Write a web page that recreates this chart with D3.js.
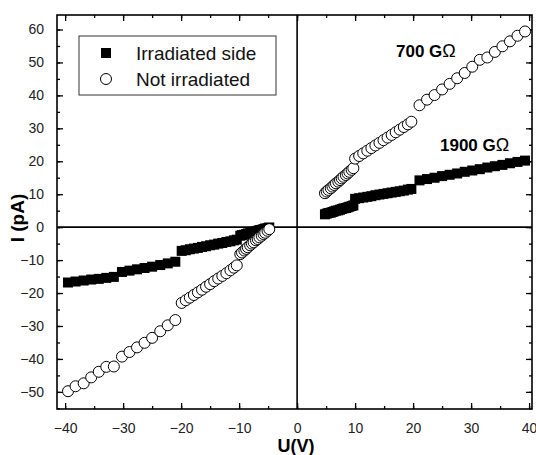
<!DOCTYPE html>
<html><head><meta charset="utf-8">
<script src="https://cdn.jsdelivr.net/npm/d3@7/dist/d3.min.js"></script>
<style>
html,body{margin:0;padding:0;background:#fff;}
svg{display:block;font-family:Arial,"Liberation Sans",sans-serif;}
</style></head>
<body>
<svg id="chart" width="536" height="455"></svg>
<script>
// Voltages (V), shared by both measurements
const voltage = [
  -39.5,-38.2,-36.8,-35.5,-34.2,-32.9,-31.6,-30.2,-28.9,-27.6,-26.3,-25.0,-23.6,-22.3,-21.0,
  -19.9,-19.2,-18.5,-17.8,-17.1,-16.4,-15.7,-15.0,-14.3,-13.6,-12.9,-12.2,-11.5,-10.9,-10.4,
  -9.8,-9.5,-9.1,-8.8,-8.5,-8.1,-7.8,-7.5,-7.1,-6.8,-6.5,-6.1,-5.8,-5.5,-5.1,-4.8,
  4.8,5.1,5.4,5.8,6.1,6.4,6.7,7.1,7.4,7.7,8.0,8.4,8.7,9.0,9.4,9.7,
  10.0,10.7,11.4,12.1,12.8,13.5,14.2,14.9,15.6,16.3,17.0,17.7,18.4,19.1,19.7,
  21.1,22.4,23.7,25.0,26.3,27.6,28.9,30.2,31.5,32.8,34.1,35.4,36.7,38.0,39.3
];
// Current, irradiated side (pA)
const currentIrradiated = [
  -16.8,-16.5,-16.2,-15.9,-15.7,-15.4,-15.1,-13.6,-13.2,-12.8,-12.4,-12.0,-11.5,-11.0,-10.5,
  -7.2,-7.0,-6.7,-6.5,-6.3,-6.0,-5.8,-5.5,-5.3,-5.0,-4.8,-4.5,-4.3,-4.0,-3.8,
  -2.6,-2.4,-2.3,-2.1,-1.9,-1.8,-1.6,-1.4,-1.3,-1.1,-0.9,-0.8,-0.6,-0.4,-0.3,-0.1,
  3.9,4.1,4.3,4.4,4.6,4.8,5.0,5.1,5.3,5.5,5.7,5.8,6.0,6.2,6.4,6.6,
  8.6,8.8,9.0,9.2,9.4,9.7,9.9,10.1,10.3,10.5,10.7,10.9,11.1,11.4,11.6,
  14.2,14.6,15.0,15.5,15.9,16.3,16.8,17.2,17.6,18.1,18.5,18.9,19.4,19.8,20.2
];
// Current, not irradiated (pA)
const currentNotIrradiated = [
  -49.8,-48.3,-47.4,-45.6,-43.9,-42.4,-42.3,-39.3,-37.9,-36.5,-35.1,-33.6,-31.6,-29.8,-28.2,
  -23.0,-22.2,-21.4,-20.6,-19.8,-19.0,-18.1,-17.3,-16.4,-15.6,-14.8,-14.0,-13.1,-12.3,-11.6,
  -8.2,-7.7,-7.1,-6.6,-6.1,-5.5,-5.0,-4.6,-4.0,-3.6,-3.1,-2.6,-2.1,-1.7,-1.1,-0.6,
  10.3,10.8,11.3,11.8,12.3,12.8,13.3,13.8,14.3,14.8,15.3,15.8,16.3,16.8,17.4,17.9,
  20.8,21.6,22.4,23.2,24.0,24.8,25.6,26.4,27.2,28.0,28.8,29.6,30.4,31.2,32.0,
  37.0,38.7,40.1,41.8,43.5,45.2,46.8,48.7,50.8,51.5,53.2,54.9,56.4,58.1,59.4
];
const xTicks = [-40,-30,-20,-10,0,10,20,30,40];
const yTicks = [-50,-40,-30,-20,-10,0,10,20,30,40,50,60];
const seriesNames = ["Irradiated side","Not irradiated"];
const annotations = ["700 G","1900 G"];
const ohm = "\u03A9";
const xTitle = "U(V)", yTitle = "I (pA)";

const W = 536, H = 455;
const m = {left:57, right:4, top:15, bottom:46};
const svg = d3.select("#chart");
const pw = W - m.left - m.right, ph = H - m.top - m.bottom;
const g = svg.append("g").attr("transform",`translate(${m.left},${m.top})`);

const x = d3.scaleLinear().domain([-41.4, 40.5]).range([0, pw]);
const y = d3.scaleLinear().domain([-55.2, 64.4]).range([ph, 0]);

const xMinor = d3.range(-40, 41, 5);
const yMinor = d3.range(-55, 65, 5);

function tickAxis(axisGen, transform){
  const a = g.append("g").attr("transform", transform).call(axisGen);
  a.select(".domain").remove();
  a.selectAll("line").attr("stroke","#000").attr("stroke-width",1.3);
  return a;
}
// minor ticks (inside, all four sides)
tickAxis(d3.axisBottom(x).tickValues(xMinor).tickSize(-3).tickFormat(""), `translate(0,${ph})`);
tickAxis(d3.axisTop(x).tickValues(xMinor).tickSize(-3).tickFormat(""), `translate(0,0)`);
tickAxis(d3.axisLeft(y).tickValues(yMinor).tickSize(-3).tickFormat(""), `translate(0,0)`);
tickAxis(d3.axisRight(y).tickValues(yMinor).tickSize(-3).tickFormat(""), `translate(${pw},0)`);
// major ticks
const xb = tickAxis(d3.axisBottom(x).tickValues(xTicks).tickSize(-6).tickPadding(14).tickFormat(d3.format("d")), `translate(0,${ph})`);
tickAxis(d3.axisTop(x).tickValues(xTicks).tickSize(-6).tickFormat(""), `translate(0,0)`);
const yl = tickAxis(d3.axisLeft(y).tickValues(yTicks).tickSize(-6).tickPadding(13).tickFormat(d3.format("d")), `translate(0,0)`);
tickAxis(d3.axisRight(y).tickValues(yTicks).tickSize(-6).tickFormat(""), `translate(${pw},0)`);
[xb, yl].forEach(a => a.selectAll("text").attr("font-size",14).attr("fill","#222")
  .attr("font-family","Arial, 'Liberation Sans', sans-serif"));

// zero lines
g.append("line").attr("x1",0).attr("x2",pw).attr("y1",y(0)).attr("y2",y(0))
  .attr("stroke","#000").attr("stroke-width",1.6);
g.append("line").attr("x1",x(0)).attr("x2",x(0)).attr("y1",0).attr("y2",ph)
  .attr("stroke","#000").attr("stroke-width",1.6);

// frame
g.append("rect").attr("width",pw).attr("height",ph).attr("fill","none")
  .attr("stroke","#000").attr("stroke-width",1.6);

// data
const sq = 10, r = 5.5;
const irr = voltage.map((v,i)=>({u:v, i:currentIrradiated[i]}));
const not = voltage.map((v,i)=>({u:v, i:currentNotIrradiated[i]}));
g.append("g").selectAll("rect").data(irr).join("rect")
  .attr("x", d=>x(d.u)-sq/2).attr("y", d=>y(d.i)-sq/2)
  .attr("width",sq).attr("height",sq).attr("fill","#000");
g.append("g").selectAll("circle").data(not).join("circle")
  .attr("cx", d=>x(d.u)).attr("cy", d=>y(d.i)).attr("r",r)
  .attr("fill","#fff").attr("stroke","#000").attr("stroke-width",1);

// legend
const lg = svg.append("g");
lg.append("rect").attr("x",79).attr("y",36).attr("width",197).attr("height",59)
  .attr("fill","#fff").attr("stroke","#333").attr("stroke-width",1);
lg.append("rect").attr("x",106-sq/2).attr("y",53-sq/2).attr("width",sq).attr("height",sq).attr("fill","#000");
lg.append("circle").attr("cx",106).attr("cy",79).attr("r",r).attr("fill","#fff").attr("stroke","#000");
lg.selectAll("text.lab").data(seriesNames).join("text").attr("class","lab")
  .attr("x",136).attr("y",(d,i)=>[60,86][i]).attr("font-size",19).attr("fill","#111").text(d=>d);

// annotations
[[annotations[0],396,57],[annotations[1],440,151]].forEach(([t,ax,ay])=>{
  const tx = svg.append("text").attr("x",ax).attr("y",ay).attr("font-size",17).attr("font-weight","bold");
  tx.append("tspan").text(t);
  tx.append("tspan").attr("font-weight","normal").attr("font-size",18).text(ohm);
});

// axis titles
svg.append("text").attr("x",296).attr("y",452).attr("text-anchor","middle")
  .attr("font-size",18).attr("font-weight","bold").text(xTitle);
svg.append("text").attr("transform","translate(24,218) rotate(-90)").attr("text-anchor","middle")
  .attr("font-size",19).attr("font-weight","bold").text(yTitle);
</script>
</body></html>
